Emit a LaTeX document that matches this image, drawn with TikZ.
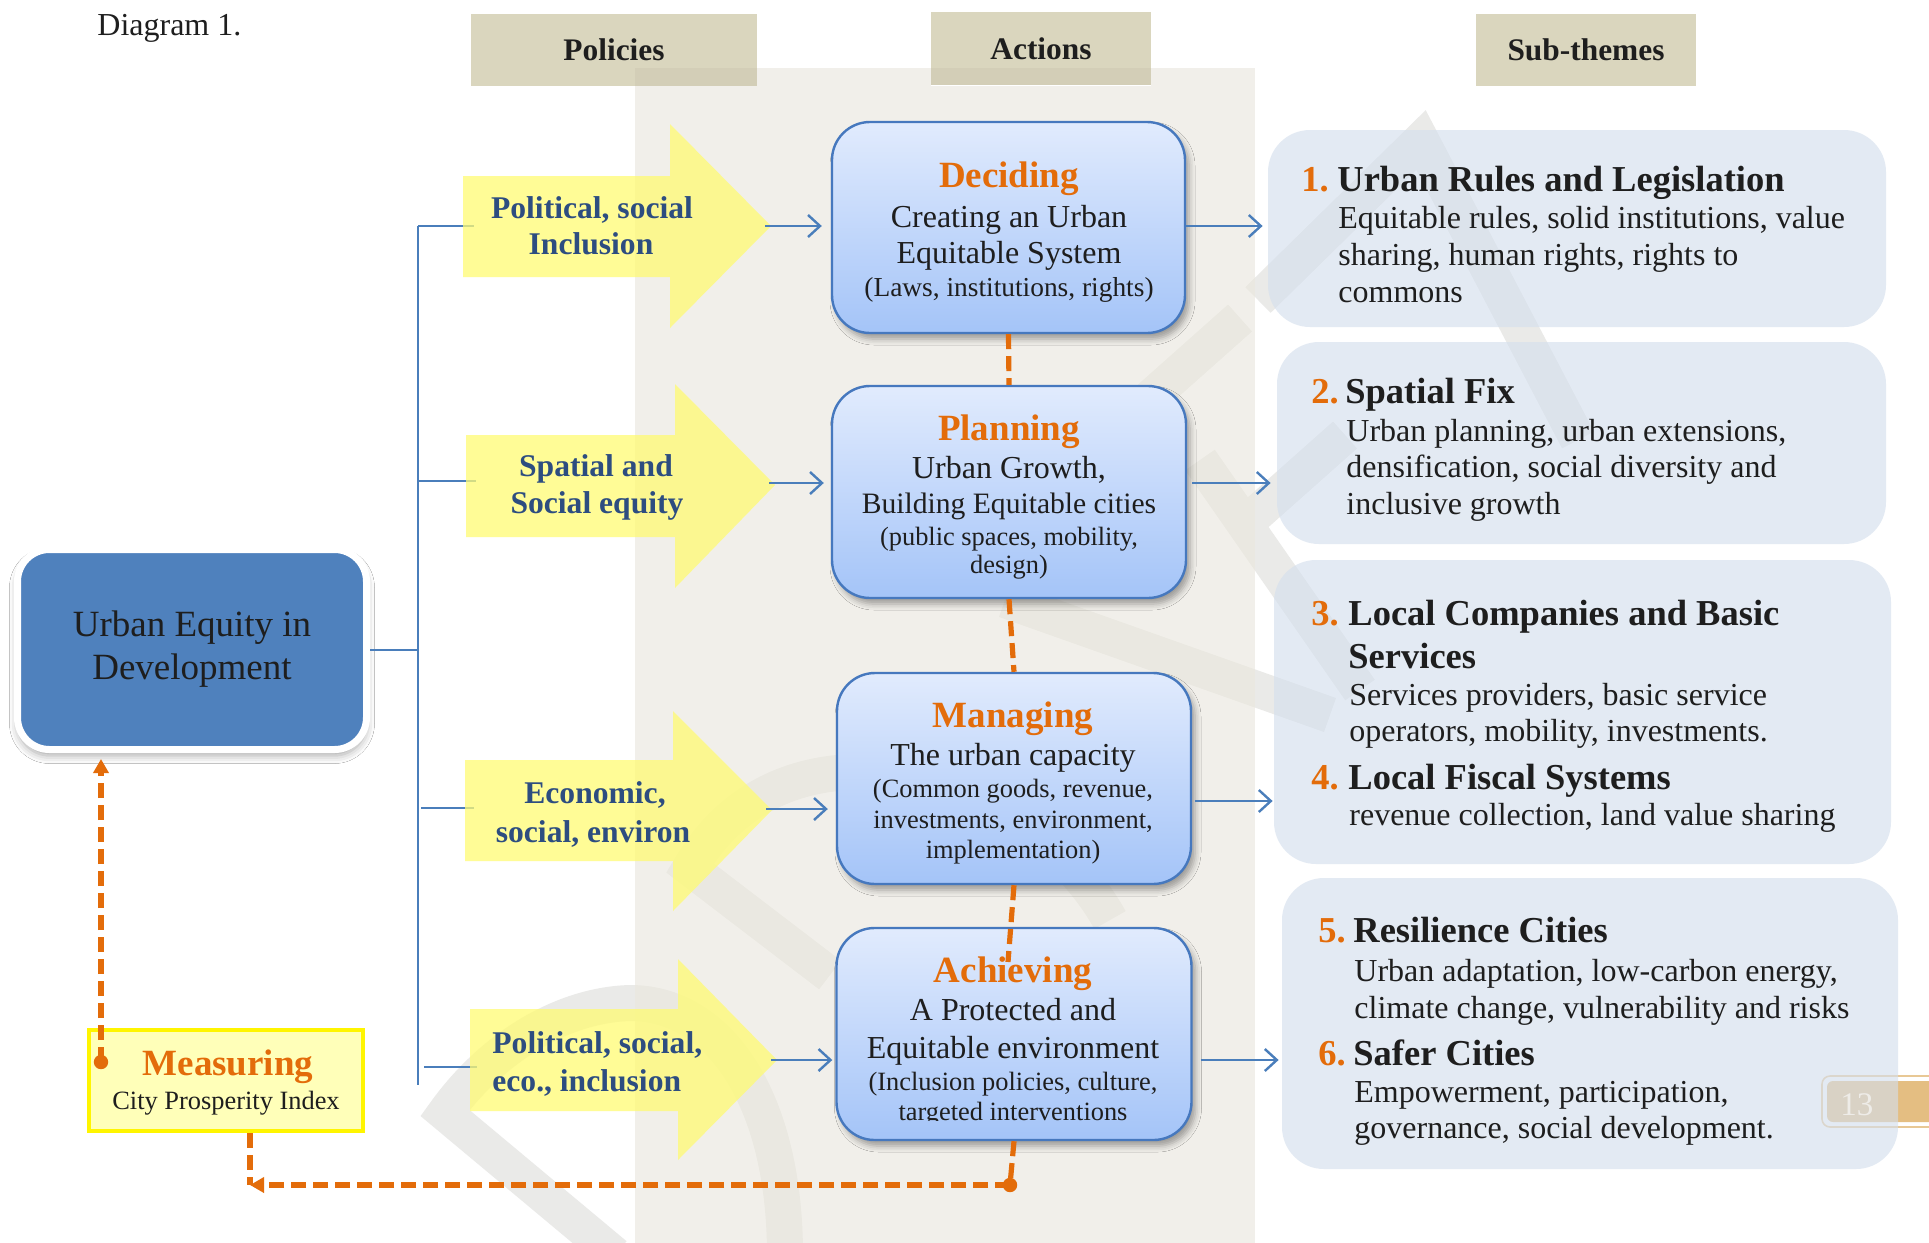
\documentclass[tikz,border=0pt]{standalone}
\usepackage{fontspec}
\setmainfont{Liberation Serif}
\usetikzlibrary{arrows.meta,shadows.blur,calc}
\definecolor{hdr}{RGB}{218,214,190}
\definecolor{hdrdark}{RGB}{211,206,183}
\definecolor{beige}{RGB}{234,231,222}
\definecolor{orangeT}{RGB}{227,108,10}
\definecolor{navyT}{RGB}{45,77,128}
\definecolor{txt}{RGB}{30,30,30}
\definecolor{mainblue}{RGB}{79,129,189}
\definecolor{lineblue}{RGB}{74,126,187}
\definecolor{acttop}{RGB}{225,235,253}
\definecolor{actbot}{RGB}{164,196,248}
\definecolor{actborder}{RGB}{70,120,190}
\definecolor{subfill}{RGB}{212,223,237}
\definecolor{yfill}{RGB}{255,251,115}
\definecolor{measfill}{RGB}{255,255,185}
\definecolor{measborder}{RGB}{255,245,0}
\definecolor{tabtan}{RGB}{228,190,130}
\definecolor{wmgrey}{RGB}{234,234,232}
\newcommand\myfs[1]{\fontsize{#1}{#1}\selectfont}
\tikzset{
  hdrbox/.style={fill=hdr, inner sep=0pt, text=txt, font=\myfs{15.7}\bfseries},
  actbox/.style={draw=actborder, line width=1.2pt, rounded corners=19pt,
    top color=acttop, bottom color=actbot, inner sep=0pt,
    blur shadow={shadow xshift=2pt, shadow yshift=-3pt, shadow opacity=35, shadow blur radius=3pt}},
  subbox/.style={fill=subfill, fill opacity=0.63, rounded corners=21pt, inner sep=0pt},
  ytext/.style={font=\myfs{15.8}\bfseries, text=navyT, anchor=base, inner sep=0pt},
  atitle/.style={font=\myfs{18.5}\bfseries, text=orangeT, anchor=base, inner sep=0pt},
  abody/.style={font=\myfs{16}, text=txt, anchor=base, inner sep=0pt},
  asmall/.style={font=\myfs{13.2}, text=txt, anchor=base, inner sep=0pt},
  snum/.style={font=\myfs{18.25}\bfseries, text=orangeT, anchor=base west, inner sep=0pt},
  shead/.style={font=\myfs{18.25}\bfseries, text=txt, anchor=base west, inner sep=0pt},
  sbody/.style={font=\myfs{16}, text=txt, anchor=base west, inner sep=0pt},
  treeline/.style={draw=lineblue, line width=1pt},
  barrow/.style={draw=lineblue, line width=1.2pt, -{Straight Barb[length=6pt,width=11pt]}},
  odash/.style={draw=orangeT, line width=2.6pt, dash pattern=on 7.5pt off 3.5pt},
  otip/.style={-{Triangle[length=7pt,width=7.5pt]}},
  yarrow/.style={fill=yfill, fill opacity=0.75},
  wm/.style={draw=wmgrey, line width=18pt, line join=miter},
}
\begin{document}
\begin{tikzpicture}[x=0.5pt,y=-0.5pt]
\useasboundingbox (0,0) rectangle (1929,1243);
\fill[white] (0,0) rectangle (1929,1243);

% watermark (faint, behind everything)
\begin{scope}
\clip (0,0) rectangle (1929,1243);
\draw[wm] (1258,300) -- (1421,140) -- (1578,440);
\draw[wm] (1240,318) -- (1150,398);
\draw[wm] (1345,435) -- (1255,515);
\draw[wm] (1200,460) -- (1360,690);
\draw[wm] (1005,600) -- (1330,715);
\draw[wm] (615,1255) -- (445,1113) .. controls (490,1050) and (560,1005) .. (630,1003) .. controls (720,1003) and (785,1100) .. (785,1255);
\draw[wm] (830,975) -- (690,868) .. controls (730,800) and (790,775) .. (850,772) .. controls (950,770) and (1060,830) .. (1110,920);
\end{scope}

% caption
\node[anchor=base west, inner sep=0pt, font=\myfs{16}, text=txt] (dlabel) at (97,35) {Diagram 1.};

% headers
\node[hdrbox, minimum width=143pt, minimum height=36pt] (hpol) at (614,50) {Policies};
\node[hdrbox, minimum width=110pt, minimum height=36.5pt] (hact) at (1041,48.5) {Actions};
\node[hdrbox, minimum width=110pt, minimum height=36pt] (hsub) at (1586,50) {Sub-themes};
\fill[hdrdark] (635,68) rectangle (757,86);
\fill[hdrdark] (931,68) rectangle (1151,85);

% beige column
\fill[beige, fill opacity=0.63] (635,86) rectangle (1255,1243);
\fill[beige, fill opacity=0.63] (757,68) rectangle (931,86);
\fill[beige, fill opacity=0.63] (1151,68) rectangle (1255,86);

% main box
\node[draw=white, line width=3.5pt, fill=mainblue, rounded corners=16pt,
  minimum width=174.5pt, minimum height=100pt, inner sep=0pt, align=center,
  font=\fontsize{18.5}{21.5}\selectfont, text=txt,
  blur shadow={shadow xshift=0pt, shadow yshift=-3pt, shadow opacity=35, shadow blur radius=4pt}]
  (main) at (192,649.5) {Urban Equity in\\Development};

% tree
\coordinate (tj) at (418,650);
\coordinate (tv1) at (418,226);
\coordinate (tv4) at (418,1085);
\coordinate (b1) at (474,226);
\coordinate (b2) at (476,481);
\coordinate (b3) at (474,808);
\coordinate (b4) at (477,1067);
\draw[treeline] (main.east |- tj) -- (tj);
\draw[treeline] (tv1) -- (tv4);
\draw[treeline] (tv1) -- (b1);
\draw[treeline] (418,481) -- (b2);
\draw[treeline] (421,808) -- (b3);
\draw[treeline] (424,1067) -- (b4);

% yellow arrows
\fill[yarrow] (463,176) -- (670,176) -- (670,124) -- (771,226) -- (670,328) -- (670,277) -- (463,277) -- cycle;
\fill[yarrow] (466,435) -- (675,435) -- (675,384) -- (775,485) -- (675,588) -- (675,537) -- (466,537) -- cycle;
\fill[yarrow] (465,760) -- (673,760) -- (673,711) -- (772,810) -- (673,911) -- (673,861) -- (465,861) -- cycle;
\fill[yarrow] (470,1009) -- (678,1009) -- (678,959) -- (777,1060) -- (678,1160) -- (678,1111) -- (470,1111) -- cycle;
\coordinate (t1) at (771,226);
\coordinate (t2) at (775,483);
\coordinate (t3) at (772,809);
\coordinate (t4) at (777,1060);

\node[ytext] (y1a) at (592,218) {Political, social};
\node[ytext] (y1b) at (591,254) {Inclusion};
\node[ytext] (y2a) at (596,476) {Spatial and};
\node[ytext] (y2b) at (597,513) {Social equity};
\node[ytext] (y3a) at (595,803) {Economic,};
\node[ytext] (y3b) at (593,842) {social, environ};
\node[ytext, anchor=base west] (y4a) at (492,1053) {Political, social,};
\node[ytext, anchor=base west] (y4b) at (492,1091) {eco., inclusion};

% page tab
\draw[tabtan!85, line width=0.8pt, rounded corners=4pt] (1822,1076) rectangle (1945,1127);
\fill[tabtan, rounded corners=3pt] (1827,1081) rectangle (1945,1122);

% sub-theme boxes
\node[subbox, minimum width=309pt, minimum height=98.5pt] (sub1) at (1577,228.5) {};
\node[subbox, minimum width=304.5pt, minimum height=101pt] (sub2) at (1581.5,443) {};
\node[subbox, minimum width=308.5pt, minimum height=152pt] (sub3) at (1582.5,712) {};
\node[subbox, minimum width=308pt, minimum height=145.5pt] (sub5) at (1590,1023.5) {};
\node[anchor=base west, inner sep=0pt, font=\myfs{16.5}, text={rgb,255:red,238;green,236;blue,232}] (pg) at (1840,1115) {13};

% action boxes
\node[actbox, minimum width=176.5pt, minimum height=105.5pt] (dec) at (1008.5,227.5) {};
\node[actbox, minimum width=177pt, minimum height=106pt] (pla) at (1009,492) {};
\node[actbox, minimum width=177pt, minimum height=105.5pt] (man) at (1014,778.5) {};
\node[actbox, minimum width=177.5pt, minimum height=106pt] (ach) at (1014,1034) {};

% action texts
\node[atitle] (dec0) at (1009,187) {Deciding};
\node[abody] (dec1) at (1009,227) {Creating an Urban};
\node[abody] (dec2) at (1009,263) {Equitable System};
\node[asmall, font=\myfs{13.7}] (dec3) at (1009,296) {(Laws, institutions, rights)};

\node[atitle] (pla0) at (1009,440) {Planning};
\node[abody] (pla1) at (1009,478) {Urban Growth,};
\node[abody, font=\myfs{14.8}] (pla2) at (1009,513) {Building Equitable cities};
\node[asmall] (pla3) at (1009,545) {(public spaces, mobility,};
\node[asmall] (pla4) at (1009,573) {design)};

\node[atitle] (man0) at (1013,727) {Managing};
\node[abody] (man1) at (1013,765) {The urban capacity};
\node[asmall] (man2) at (1013,797) {(Common goods, revenue,};
\node[asmall] (man3) at (1013,828) {investments, environment,};
\node[asmall] (man4) at (1013,858) {implementation)};

\node[atitle] (ach0) at (1013,982) {Achieving};
\node[abody] (ach1) at (1013,1020) {A Protected and};
\node[abody] (ach2) at (1013,1058) {Equitable environment};
\node[asmall] (ach3) at (1013,1090) {(Inclusion policies, culture,};
\begin{scope}
\clip (837,1095) rectangle (1191,1120);
\node[asmall] (ach4) at (1013,1120) {targeted interventions};
\end{scope}

% sub-theme texts
\node[snum] (n1) at (1301,191) {1.};
\node[shead] (s1h) at (1337,191) {Urban Rules and Legislation};
\node[sbody] (s1a) at (1338,228) {Equitable rules, solid institutions, value};
\node[sbody] (s1b) at (1338,265) {sharing, human rights, rights to};
\node[sbody] (s1c) at (1338,302) {commons};

\node[snum] (n2) at (1311,403) {2.};
\node[shead] (s2h) at (1345,403) {Spatial Fix};
\node[sbody] (s2a) at (1346,441) {Urban planning, urban extensions,};
\node[sbody] (s2b) at (1346,477) {densification, social diversity and};
\node[sbody] (s2c) at (1346,514) {inclusive growth};

\node[snum] (n3) at (1311,625) {3.};
\node[shead] (s3h) at (1348,625) {Local Companies and Basic};
\node[shead] (s3h2) at (1348,668) {Services};
\node[sbody] (s3a) at (1349,705) {Services providers, basic service};
\node[sbody] (s3b) at (1349,741) {operators, mobility, investments.};
\node[snum] (n4) at (1311,789) {4.};
\node[shead] (s4h) at (1348,789) {Local Fiscal Systems};
\node[sbody] (s4a) at (1349,825) {revenue collection, land value sharing};

\node[snum] (n5) at (1318,942) {5.};
\node[shead] (s5h) at (1353,942) {Resilience Cities};
\node[sbody] (s5a) at (1354,981) {Urban adaptation, low-carbon energy,};
\node[sbody] (s5b) at (1354,1018) {climate change, vulnerability and risks};
\node[snum] (n6) at (1318,1065) {6.};
\node[shead] (s6h) at (1353,1065) {Safer Cities};
\node[sbody] (s6a) at (1354,1102) {Empowerment, participation,};
\node[sbody] (s6b) at (1354,1138) {governance, social development.};

% measuring box
\node[draw=measborder, line width=2pt, fill=measfill, minimum width=137pt, minimum height=50.5pt, inner sep=0pt] (meas) at (226,1080.5) {};
\node[atitle] (meas1) at (228,1075) {Measuring};
\node[asmall] (meas2) at (226,1109) {City Prosperity Index};

% blue arrows policies -> actions
\draw[barrow, shorten >=4.5pt] ([xshift=-3pt]t1) -- (t1 -| dec.west);
\draw[barrow, shorten >=3.5pt] ([xshift=-3pt]t2) -- (t2 -| pla.west);
\draw[barrow, shorten >=4pt] ([xshift=-3pt]t3) -- (t3 -| man.west);
\draw[barrow, shorten >=1.5pt] ([xshift=-3pt]t4) -- (t4 -| ach.west);

% blue arrows actions -> sub-themes
\coordinate (r1) at ([yshift=0.75pt]dec.east);
\coordinate (r2) at ([xshift=2.5pt,yshift=4.5pt]pla.east);
\coordinate (r3) at ([xshift=1.5pt,yshift=-11.25pt]man.east);
\coordinate (r4) at ([xshift=4pt,yshift=-13pt]ach.east);
\draw[barrow, shorten >=2.5pt] (r1) -- (r1 -| sub1.west);
\draw[barrow, shorten >=3pt] (r2) -- (r2 -| sub2.west);
\draw[barrow, shorten >=0.5pt] (r3) -- (r3 -| sub3.west);
\draw[barrow, shorten >=1.5pt] (r4) -- (r4 -| sub5.west);

% orange dashed connectors
\coordinate (achin) at (1008,962);
\coordinate (dot) at (1010,1185);
\coordinate (corner) at (250,1185);
\coordinate (mdot) at (101,1062);
\draw[odash] (dec.south) -- (pla.north);
\draw[odash] (pla.south) -- (man.north);
\draw[odash] (man.south) -- (achin);
\draw[odash] (ach.south) -- (dot);
\draw[odash, otip] (dot) -- (corner);
\draw[odash] (meas.south -| corner) -- (corner);
\fill[orangeT] (dot) circle (3.6pt);
\draw[odash, otip, shorten >=3pt] (mdot) -- (mdot |- main.south);
\fill[orangeT] (mdot) circle (3.6pt);
\end{tikzpicture}
\end{document}
